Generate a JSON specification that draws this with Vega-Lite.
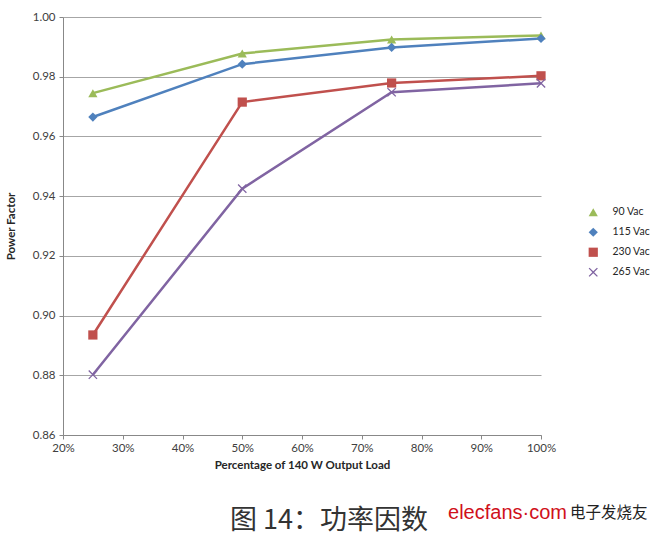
{
  "$schema": "https://vega.github.io/schema/vega-lite/v6.json",
  "width": 478,
  "height": 418,
  "autosize": {"type": "none"},
  "padding": {"left": 63, "top": 17, "right": 123, "bottom": 100},
  "background": "white",
  "config": {
    "font": "Lato",
    "view": {"stroke": null},
    "axis": {"labelFont": "Lato", "titleFont": "Lato", "labelColor": "#404040", "titleColor": "#262626", "domainColor": "#888", "tickColor": "#888", "gridColor": "#a6a6a6", "labelFontSize": 11.5, "titleFontSize": 11.5, "titleFontWeight": "bold", "labelFlush": false}
  },
  "datasets": {
    "pf": [
      {"load": 0.25, "pf": 0.9745, "series": "90 Vac"},
      {"load": 0.50, "pf": 0.9878, "series": "90 Vac"},
      {"load": 0.75, "pf": 0.9925, "series": "90 Vac"},
      {"load": 1.00, "pf": 0.9938, "series": "90 Vac"},
      {"load": 0.25, "pf": 0.9665, "series": "115 Vac"},
      {"load": 0.50, "pf": 0.9842, "series": "115 Vac"},
      {"load": 0.75, "pf": 0.9898, "series": "115 Vac"},
      {"load": 1.00, "pf": 0.9928, "series": "115 Vac"},
      {"load": 0.25, "pf": 0.8935, "series": "230 Vac"},
      {"load": 0.50, "pf": 0.9715, "series": "230 Vac"},
      {"load": 0.75, "pf": 0.9779, "series": "230 Vac"},
      {"load": 1.00, "pf": 0.9803, "series": "230 Vac"},
      {"load": 0.25, "pf": 0.8802, "series": "265 Vac"},
      {"load": 0.50, "pf": 0.9425, "series": "265 Vac"},
      {"load": 0.75, "pf": 0.9748, "series": "265 Vac"},
      {"load": 1.00, "pf": 0.9778, "series": "265 Vac"}
    ],
    "notes": [
      {"x": 0.4795, "y": 0.8312, "label": "图 14：功率因数"}
    ],
    "logo": [
      {"x": 0.8444, "y": 0.8339, "label": "elecfans·com"}
    ],
    "cn": [
      {"x": 1.0485, "y": 0.8339, "label": "电子发烧友"}
    ]
  },
  "layer": [
    {
      "data": {"name": "pf"},
      "mark": {"type": "line", "strokeWidth": 2.5},
      "encoding": {
        "x": {"field": "load", "type": "quantitative", "scale": {"domain": [0.2, 1.0], "nice": false}, "axis": {"format": ".0%", "values": [0.2,0.3,0.4,0.5,0.6,0.7,0.8,0.9,1.0], "grid": false, "title": "Percentage of 140 W Output Load", "titlePadding": 6, "tickSize": 4, "labelPadding": 3}},
        "y": {"field": "pf", "type": "quantitative", "scale": {"domain": [0.86, 1.0], "nice": false, "zero": false}, "axis": {"format": ".2f", "values": [0.86,0.88,0.9,0.92,0.94,0.96,0.98,1.0], "title": "Power Factor", "titlePadding": 16, "tickSize": 4, "labelPadding": 4}},
        "color": {"field": "series", "type": "nominal", "scale": {"domain": ["90 Vac", "115 Vac", "230 Vac", "265 Vac"], "range": ["#9BBB59", "#4F81BD", "#C0504D", "#8064A2"]}, "legend": {"title": null, "orient": "none", "legendX": 525, "legendY": 190, "labelFontSize": 10.5, "labelColor": "#262626", "rowPadding": 9, "labelOffset": 14, "symbolSize": 80, "symbolStrokeWidth": 0, "symbolFillColor": "#888", "encode": {"symbols": {"update": {"fill": {"scale": "color", "field": "value"}, "stroke": {"value": "transparent"}, "shape": {"signal": "datum.value === '90 Vac' ? 'M-3.9,-0.28L3.9,-0.28L3.9,0.28L-3.9,0.28Z M0,-1.1L1.1,0.8L-1.1,0.8Z' : datum.value === '115 Vac' ? 'M-3.9,-0.28L3.9,-0.28L3.9,0.28L-3.9,0.28Z M0,-1.1L1.1,0L0,1.1L-1.1,0Z' : datum.value === '230 Vac' ? 'M-3.9,-0.28L3.9,-0.28L3.9,0.28L-3.9,0.28Z M-1,-1L1,-1L1,1L-1,1Z' : 'M-3.9,-0.28L3.9,-0.28L3.9,0.28L-3.9,0.28Z M0,-0.2L0.8,-1L1,-0.8L0.2,0L1,0.8L0.8,1L0,0.2L-0.8,1L-1,0.8L-0.2,0L-1,-0.8L-0.8,-1Z'"}}}}}}
      }
    },
    {
      "data": {"name": "pf"},
      "mark": {"type": "point", "filled": true, "opacity": 1},
      "encoding": {
        "x": {"field": "load", "type": "quantitative"},
        "y": {"field": "pf", "type": "quantitative"},
        "color": {"field": "series", "type": "nominal"},
        "shape": {"field": "series", "type": "nominal", "scale": {"domain": ["90 Vac", "115 Vac", "230 Vac", "265 Vac"], "range": ["triangle-up", "diamond", "square", "M0,-0.2L0.8,-1L1,-0.8L0.2,0L1,0.8L0.8,1L0,0.2L-0.8,1L-1,0.8L-0.2,0L-1,-0.8L-0.8,-1Z"]}, "legend": null},
        "size": {"field": "series", "type": "nominal", "scale": {"domain": ["90 Vac", "115 Vac", "230 Vac", "265 Vac"], "range": [85, 85, 130, 100]}, "legend": null}
      }
    },
    {
      "data": {"name": "notes"},
      "mark": {"type": "text", "align": "left", "baseline": "middle", "font": "Noto Sans CJK SC", "fontSize": 27, "color": "#333"},
      "encoding": {
        "x": {"field": "x", "type": "quantitative"},
        "y": {"field": "y", "type": "quantitative"},
        "text": {"field": "label"}
      }
    },
    {
      "data": {"name": "logo"},
      "mark": {"type": "text", "align": "left", "baseline": "middle", "font": "Liberation Sans", "fontSize": 20, "color": "#d0101a"},
      "encoding": {
        "x": {"field": "x", "type": "quantitative"},
        "y": {"field": "y", "type": "quantitative"},
        "text": {"field": "label"}
      }
    },
    {
      "data": {"name": "cn"},
      "mark": {"type": "text", "align": "left", "baseline": "middle", "font": "Noto Sans CJK SC", "fontSize": 15.5, "color": "#222"},
      "encoding": {
        "x": {"field": "x", "type": "quantitative"},
        "y": {"field": "y", "type": "quantitative"},
        "text": {"field": "label"}
      }
    }
  ]
}
